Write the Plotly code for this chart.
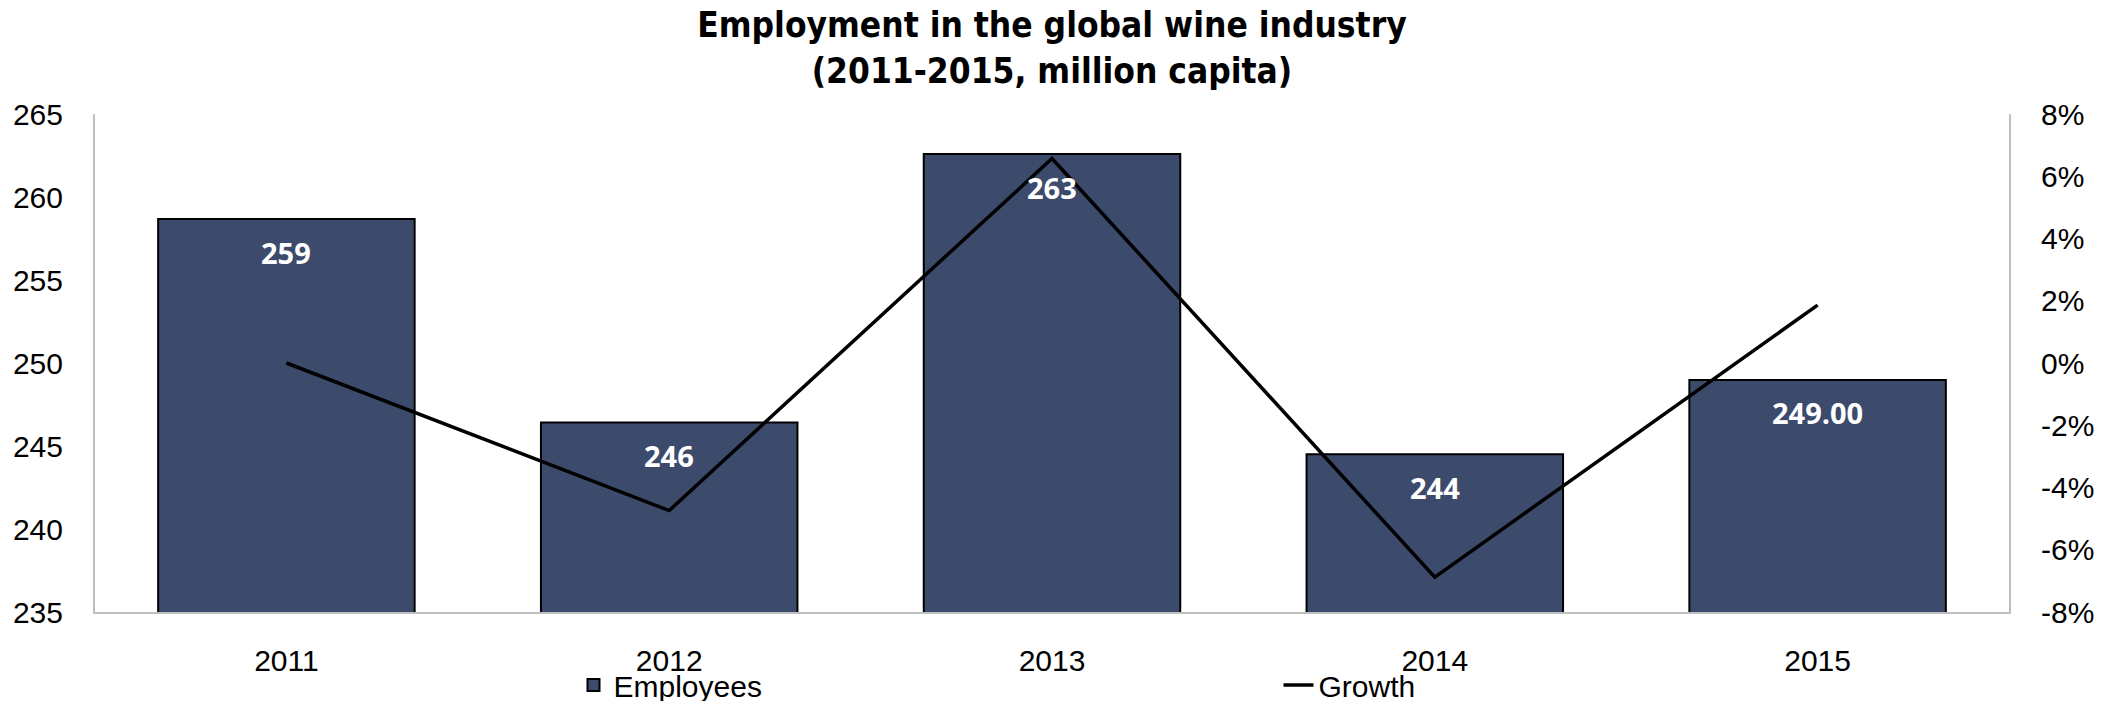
import plotly.graph_objects as go

years = ["2011", "2012", "2013", "2014", "2015"]
employees = [258.67, 246.42, 262.59, 244.50, 248.98]
employee_labels = ["259", "246", "263", "244", "249.00"]
growth_pct = [0.0, -4.74, 6.57, -6.88, 1.86]

left_ticks = [235, 240, 245, 250, 255, 260, 265]
right_ticks = [-8, -6, -4, -2, 0, 2, 4, 6, 8]
right_tick_text = ["-8%", "-6%", "-4%", "-2%", "0%", "2%", "4%", "6%", "8%"]

BAR_COLOR = "#3C4A6C"
AXIS_COLOR = "#BFBFBF"
TICK_FONT = dict(family="Liberation Sans, Arial, sans-serif", size=30, color="#000000")

fig = go.Figure()
fig.add_trace(go.Bar(
    x=years, y=employees, name="Employees",
    marker=dict(color=BAR_COLOR, line=dict(color="#000000", width=2)),
    yaxis="y", hoverinfo="skip",
))
fig.add_trace(go.Scatter(
    x=years, y=growth_pct, name="Growth", mode="lines",
    line=dict(color="#000000", width=3.5),
    yaxis="y2", hoverinfo="skip",
))

for i, (v, lab) in enumerate(zip(employees, employee_labels)):
    fig.add_annotation(
        x=i, y=v, xref="x", yref="y", text=lab, showarrow=False,
        yshift=-33, yanchor="middle",
        font=dict(family="Open Sans, sans-serif", size=29, color="#FFFFFF", weight="bold"),
    )

fig.update_layout(
    width=2103, height=701,
    margin=dict(l=95, r=94, t=114, b=89, autoexpand=False),
    paper_bgcolor="#FFFFFF", plot_bgcolor="#FFFFFF",
    bargap=0.33,
    showlegend=True,
    title=dict(
        text="Employment in the global wine industry<br>(2011-2015, million capita)",
        x=0.5, xref="paper", xanchor="center",
        y=0.947, yref="container", yanchor="middle",
        font=dict(family="DejaVu Sans Condensed, DejaVu Sans, sans-serif", size=35, color="#000000", weight="bold"),
    ),
    xaxis=dict(
        type="category", range=[-0.5, 4.5], showline=True, linecolor=AXIS_COLOR, linewidth=2,
        showgrid=False, ticks="", tickfont=TICK_FONT, ticklabelstandoff=21,
        zeroline=False, automargin=False,
    ),
    yaxis=dict(
        range=[235, 265], tickvals=left_ticks, showline=True, linecolor=AXIS_COLOR,
        linewidth=2, showgrid=False, ticks="", tickfont=TICK_FONT, zeroline=False,
        ticklabelstandoff=24, automargin=False,
    ),
    yaxis2=dict(
        range=[-8, 8], tickvals=right_ticks, ticktext=right_tick_text, overlaying="y", side="right",
        showline=True, linecolor=AXIS_COLOR, linewidth=2, showgrid=False, ticks="",
        tickfont=TICK_FONT, zeroline=False, ticklabelstandoff=24, automargin=False,
    ),
    legend=dict(
        orientation="h", x=0.25, xanchor="left", y=-0.0944, yanchor="top",
        font=TICK_FONT, entrywidth=660, entrywidthmode="pixels",
        bgcolor="rgba(0,0,0,0)", traceorder="normal",
    ),
)

fig.write_html(
    "out.html",
    config={"displayModeBar": False},
    post_script="document.body.style.margin='0';",
)
